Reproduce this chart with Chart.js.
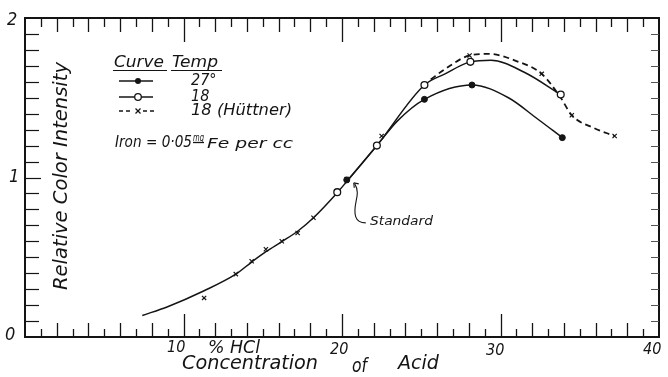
<!DOCTYPE html>
<html>
<head>
<meta charset="utf-8">
<script src="https://cdn.jsdelivr.net/npm/chart.js@4.4.1/dist/chart.umd.min.js"></script>
<style>
    html, body { margin: 0; padding: 0; background: #fff; }
    #wrap { width: 668px; height: 377px; }
</style>
</head>
<body>
<div id="wrap"><canvas id="chart" width="668" height="377"></canvas></div>
<script>
// curves as drawn
const curve18X = [7.4, 9, 11.3, 13.3, 14.3, 15.2, 16.2, 17.2, 18.2, 19.7, 20.3, 22.2, 25.2, 26.5, 28.1, 29.4, 31.5, 33.8];
const curve18Y = [0.135, 0.19, 0.29, 0.394, 0.47, 0.535, 0.598, 0.663, 0.748, 0.905, 0.975, 1.2, 1.58, 1.65, 1.725, 1.735, 1.66, 1.52];
const curve27X = [20.3, 22.2, 23.5, 25.2, 28.2, 30.5, 32.3, 33.9];
const curve27Y = [0.975, 1.2, 1.355, 1.49, 1.58, 1.5, 1.37, 1.25];
const curveHX = [25.6, 26.5, 28.05, 29.3, 31, 32.6, 33.8, 34.5, 35.9, 37.2];
const curveHY = [1.615, 1.68, 1.765, 1.775, 1.73, 1.65, 1.5, 1.39, 1.31, 1.26];

// measured points
const pts27X = [20.3, 25.2, 28.2, 33.9];
const pts27Y = [0.985, 1.49, 1.58, 1.25];
const pts18X = [19.7, 22.2, 25.2, 28.1, 33.8];
const pts18Y = [0.908, 1.2, 1.58, 1.725, 1.52];
const ptsHX = [11.3, 13.3, 14.3, 15.2, 16.2, 17.2, 18.2, 20.3, 22.5, 25.2, 28.05, 32.6, 34.5, 37.2];
const ptsHY = [0.245, 0.394, 0.475, 0.55, 0.6, 0.652, 0.748, 0.99, 1.26, 1.58, 1.765, 1.65, 1.39, 1.26];

// axis labels
const xTickLabels = ['10', '20', '30', '40'];
const yTickLabels = ['0', '1', '2'];
const legendTemps = ['27°', '18', '18 (Hüttner)'];

const INK = '#141414';
const FONT = '"Liberation Sans Narrow", "DejaVu Sans Condensed", "Liberation Sans", sans-serif';

const zip = (xs, ys) => xs.map((x, i) => ({ x: x, y: ys[i] }));

// draws text, squeezed to a width when w is given
function txt(ctx, s, x, y, w, size) {
    ctx.save();
    ctx.font = 'italic ' + size + 'px ' + FONT;
    const m = ctx.measureText(s).width;
    ctx.translate(x, y);
    if (w) ctx.scale(w / m, 1);
    ctx.textBaseline = 'middle';
    ctx.textAlign = 'left';
    ctx.fillStyle = INK;
    ctx.fillText(s, 0, 0);
    ctx.restore();
}

function seg(ctx, x1, y1, x2, y2) {
    ctx.beginPath();
    ctx.moveTo(x1, y1);
    ctx.lineTo(x2, y2);
    ctx.stroke();
}

const paperPlugin = {
    id: 'paper',
    beforeDraw(chart) {
        const ctx = chart.ctx;
        ctx.save();
        ctx.fillStyle = '#fff';
        ctx.fillRect(0, 0, chart.width, chart.height);
        ctx.restore();
    },
    afterDraw(chart) {
        const ctx = chart.ctx;
        const a = chart.chartArea;
        const xs = chart.scales.x, ys = chart.scales.y;
        ctx.save();
        ctx.strokeStyle = INK;

        // frame
        ctx.lineWidth = 2;
        ctx.strokeRect(a.left, a.top, a.right - a.left, a.bottom - a.top);

        // inward ticks
        ctx.lineWidth = 1.3;
        for (let v = 1; v < 40; v++) {
            const px = Math.round(xs.getPixelForValue(v)) + 0.5;
            const lb = v % 10 === 0 ? 23 : (v % 2 === 0 ? 14 : 8);
            const lt = v % 10 === 0 ? 24 : (v % 2 === 0 ? 14 : 9);
            seg(ctx, px, a.bottom, px, a.bottom - lb);
            seg(ctx, px, a.top, px, a.top + lt);
        }
        for (let k = 1; k < 20; k++) {
            const py = Math.round(ys.getPixelForValue(k / 10)) + 0.5;
            ctx.strokeStyle = INK;
            ctx.lineWidth = 1.2;
            seg(ctx, a.left, py, a.left + (k === 10 ? 16 : 14), py);
            ctx.strokeStyle = '#555';
            ctx.lineWidth = 1;
            seg(ctx, a.right, py, a.right - 8, py);
        }
        ctx.strokeStyle = INK;

        // tick labels
        txt(ctx, yTickLabels[2], 7, 20, 0, 18);
        txt(ctx, yTickLabels[1], 9, 177, 0, 18);
        txt(ctx, yTickLabels[0], 5, 335, 0, 18);
        txt(ctx, xTickLabels[0], 167, 348, 0, 16);
        txt(ctx, '% HCl', 208, 349, 52, 17);
        txt(ctx, xTickLabels[1], 330, 350, 0, 16);
        txt(ctx, xTickLabels[2], 486, 351, 0, 16);
        txt(ctx, xTickLabels[3], 643, 350, 0, 16);

        // axis titles
        txt(ctx, 'Concentration', 182, 364, 136, 19);
        txt(ctx, 'of', 352, 367, 15, 19);
        txt(ctx, 'Acid', 398, 364, 41, 19);
        ctx.save();
        ctx.translate(62, 290);
        ctx.rotate(-Math.PI / 2);
        txt(ctx, 'Relative Color Intensity', 0, 0, 228, 20);
        ctx.restore();

        // legend block
        txt(ctx, 'Curve', 114, 63, 50, 15);
        txt(ctx, 'Temp', 172, 63, 46, 15);
        ctx.lineWidth = 1.2;
        seg(ctx, 113, 70.5, 167, 70.5);
        seg(ctx, 171, 70.5, 222, 70.5);
        const rowY = [81, 97, 111];
        ctx.lineWidth = 1.3;
        seg(ctx, 119, rowY[0], 153, rowY[0]);
        ctx.beginPath(); ctx.arc(138, rowY[0], 3, 0, Math.PI * 2); ctx.fillStyle = INK; ctx.fill();
        seg(ctx, 119, rowY[1], 153, rowY[1]);
        ctx.beginPath(); ctx.arc(138, rowY[1], 3.3, 0, Math.PI * 2); ctx.fillStyle = '#fff'; ctx.fill(); ctx.stroke();
        ctx.setLineDash([4, 3]);
        seg(ctx, 119, rowY[2], 133, rowY[2]);
        seg(ctx, 143, rowY[2], 154, rowY[2]);
        ctx.setLineDash([]);
        seg(ctx, 135.5, rowY[2] - 2.5, 140.5, rowY[2] + 2.5);
        seg(ctx, 135.5, rowY[2] + 2.5, 140.5, rowY[2] - 2.5);
        txt(ctx, legendTemps[0], 191, rowY[0], 0, 16);
        txt(ctx, legendTemps[1], 191, rowY[1], 0, 16);
        txt(ctx, legendTemps[2], 191, rowY[2], 101, 16);
        txt(ctx, 'Iron = 0·05', 115, 143, 77, 15);
        txt(ctx, 'mg', 193, 138, 11, 10);
        seg(ctx, 193, 142.5, 204, 142.5);
        txt(ctx, 'Fe per cc', 207, 144, 86, 14);

        // "Standard" note with arrow to the standard point
        const sx = xs.getPixelForValue(pts27X[0]), sy = ys.getPixelForValue(pts27Y[0]);
        const tipX = sx + 7, tipY = sy + 3;
        ctx.lineWidth = 1.1;
        ctx.beginPath();
        ctx.moveTo(tipX + 1, tipY + 1);
        ctx.bezierCurveTo(tipX + 8, tipY + 12, tipX - 2, tipY + 22, tipX + 2, tipY + 34);
        ctx.quadraticCurveTo(tipX + 4, tipY + 40, tipX + 12, tipY + 40);
        ctx.stroke();
        seg(ctx, tipX, tipY, tipX + 5, tipY + 1);
        seg(ctx, tipX, tipY, tipX + 0.5, tipY + 5);
        txt(ctx, 'Standard', 370, 222, 63, 13);

        ctx.restore();
    }
};

const lineStyle = { showLine: true, pointRadius: 0, borderColor: INK, cubicInterpolationMode: 'monotone', order: 1 };

const ctx = document.getElementById('chart').getContext('2d');
new Chart(ctx, {
    type: 'scatter',
    data: {
        datasets: [
            { label: '27° pts', data: zip(pts27X, pts27Y), order: 0, pointRadius: 3, pointBackgroundColor: INK, pointBorderColor: INK, pointBorderWidth: 1 },
            { label: '18 pts', data: zip(pts18X, pts18Y), order: 0, pointRadius: 3.4, pointBackgroundColor: '#fff', pointBorderColor: INK, pointBorderWidth: 1.3 },
            { label: 'Hüttner pts', data: zip(ptsHX, ptsHY), order: 0, pointStyle: 'crossRot', pointRadius: 3, pointBorderColor: INK, pointBorderWidth: 1.2 },
            Object.assign({ label: '18', data: zip(curve18X, curve18Y), borderWidth: 1.5 }, lineStyle),
            Object.assign({ label: '27°', data: zip(curve27X, curve27Y), borderWidth: 1.5 }, lineStyle),
            Object.assign({ label: '18 (Hüttner)', data: zip(curveHX, curveHY), borderWidth: 1.8, borderDash: [6, 4] }, lineStyle)
        ]
    },
    options: {
        responsive: false,
        animation: false,
        devicePixelRatio: 1,
        layout: { padding: { left: 25, right: 9, top: 18, bottom: 40 } },
        plugins: { legend: { display: false }, tooltip: { enabled: false } },
        scales: {
            x: { type: 'linear', min: 0, max: 40, display: false },
            y: { type: 'linear', min: 0, max: 2, display: false }
        }
    },
    plugins: [paperPlugin]
});
</script>
</body>
</html>
